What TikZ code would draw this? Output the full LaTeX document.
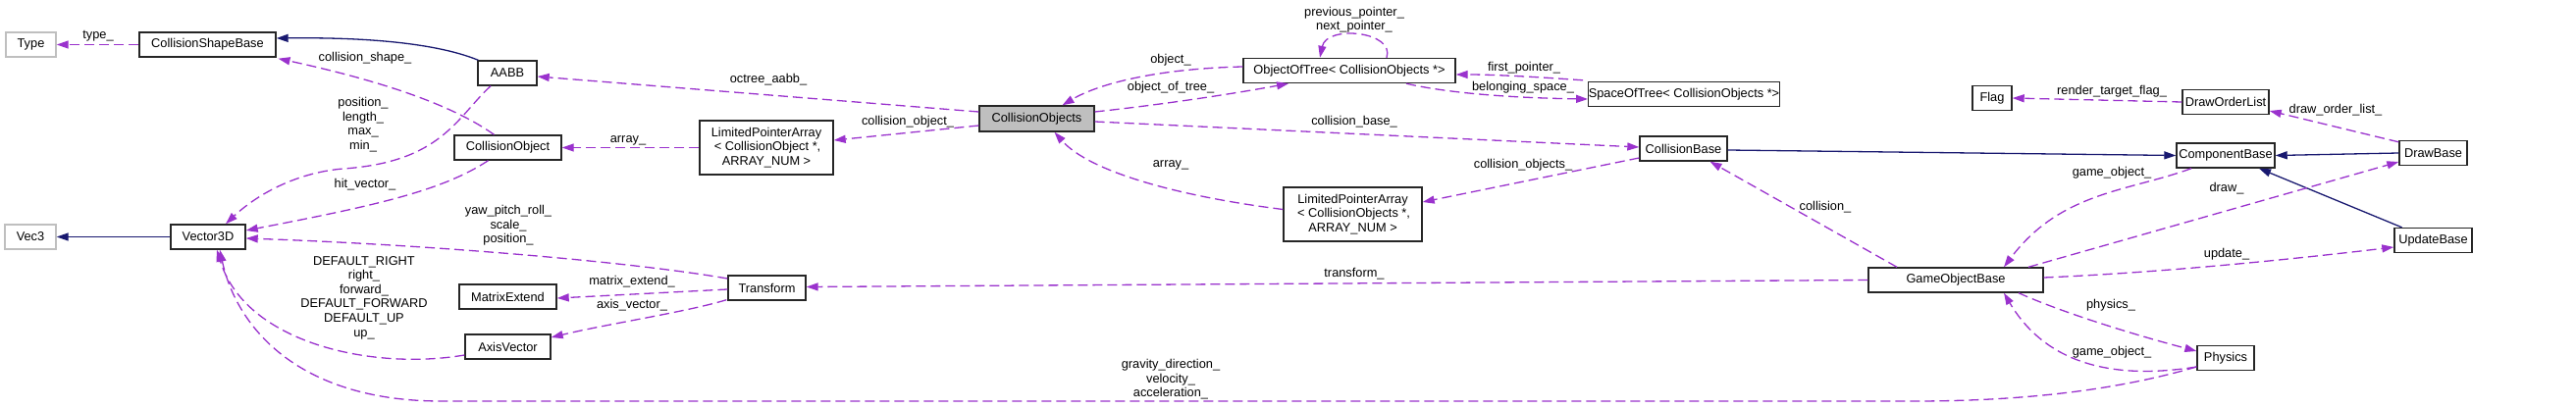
\documentclass[tikz,border=0pt]{standalone}
\usepackage{fontspec}
\setmainfont{Liberation Sans}
\usetikzlibrary{arrows.meta}
\definecolor{usecol}{HTML}{9A32CD}
\definecolor{inhcol}{HTML}{191970}
\definecolor{boxgray}{HTML}{BFBFBF}
\begin{document}
\begin{tikzpicture}[x=1pt,y=-1pt,
  every node/.style={font=\fontsize{12.8}{14.6}\selectfont},
  cls/.style={draw=black!85, line width=1.4pt, fill=white, inner sep=0pt, align=center, minimum height=25pt},
  ext/.style={cls, draw=boxgray},
  cur/.style={cls, fill=boxgray},
  use/.style={usecol, line width=1.3pt, dash pattern=on 10pt off 5pt, -{Triangle[length=12pt,width=8pt]}},
  inh/.style={inhcol, line width=1.3pt, -{Triangle[length=12pt,width=8pt]}},
  lbl/.style={inner sep=0pt, align=center}]
\useasboundingbox (0,0) rectangle (2625,417);
% nodes
\node[ext, minimum width=51pt] (type) at (31.5,45.5) {Type};
\node[cls, minimum width=139pt] (csb) at (211.5,45.5) {CollisionShapeBase};
\node[cls, minimum width=60pt] (aabb) at (517,74.5) {AABB};
\node[cls, minimum width=109pt] (co) at (517.5,150.5) {CollisionObject};
\node[ext, minimum width=52pt] (vec3) at (31,241.5) {Vec3};
\node[cls, minimum width=76pt] (v3d) at (212,241.5) {Vector3D};
\node[cls, minimum width=99pt] (mx) at (517.5,302.5) {MatrixExtend};
\node[cls, minimum width=87pt] (av) at (517.5,353.5) {AxisVector};
\node[cls, minimum width=136pt, minimum height=55pt] (lpa1) at (781,150.5) {LimitedPointerArray\\\,\textless{} CollisionObject *,\\ ARRAY\_NUM \textgreater};
\node[cls, minimum width=79pt] (tf) at (781.5,293.5) {Transform};
\node[cur, minimum width=117pt, minimum height=26pt] (cos) at (1056.5,121) {CollisionObjects};
\node[cls, minimum width=216pt] (oot) at (1375,72) {ObjectOfTree\textless{} CollisionObjects *\textgreater};
\node[cls, minimum width=141pt, minimum height=55pt] (lpa2) at (1378.5,218.5) {LimitedPointerArray\\\,\textless{} CollisionObjects *,\\ ARRAY\_NUM \textgreater};
\node[cls, minimum width=192pt] (sot) at (1716,96) {SpaceOfTree\textless{} CollisionObjects *\textgreater};
\node[cls, minimum width=89pt] (cb) at (1715.5,151.5) {CollisionBase};
\node[cls, minimum width=178pt] (gob) at (1993,285.5) {GameObjectBase};
\node[cls, minimum width=40pt] (flag) at (2030,100) {Flag};
\node[cls, minimum width=88pt] (dol) at (2268,104) {DrawOrderList};
\node[cls, minimum width=100pt] (compb) at (2268,158.5) {ComponentBase};
\node[cls, minimum width=69pt] (db) at (2479.5,156) {DrawBase};
\node[cls, minimum width=79pt] (ub) at (2479.5,245) {UpdateBase};
\node[cls, minimum width=58pt] (phys) at (2268,365) {Physics};
% inheritance
\draw[inh] ([xshift=1pt]aabb.north west) .. controls (440,42) and (360,38) .. ([yshift=6.5pt]csb.east);
\draw[inh] (v3d.west) -- (vec3.east);
\draw[inh] ([yshift=-1.5pt]cb.east) -- (compb.west);
\draw[inh] (db.west) -- (compb.east);
\draw[inh] ([xshift=-32pt]ub.north) -- ([xshift=34pt]compb.south);
% usage
\draw[use] (csb.west) -- (type.east);
\node[lbl] (l1) at (100,37) {type\_};
\draw[use] ([xshift=-14pt]co.north) .. controls (465,110) and (400,85) .. ([xshift=72pt,yshift=-1pt]csb.south);
\node[lbl] (l2) at (372,59) {collision\_shape\_};
\draw[use] ([xshift=-17pt]aabb.south) .. controls (465,120) and (450,165) .. (350,172) .. controls (300,176) and (260,200) .. ([xshift=18pt]v3d.north);
\node[lbl] (l3) at (370,127) {position\_\\length\_\\max\_\\min\_};
\draw[use] ([xshift=-20pt]co.south) .. controls (450,195) and (380,210) .. ([yshift=6.5pt]v3d.east);
\node[lbl] (l4) at (372,188) {hit\_vector\_};
\draw[use] ([yshift=9.5pt]tf.west) .. controls (650,268) and (450,250) .. ([yshift=-1.5pt]v3d.east);
\node[lbl] (l5) at (518,230) {yaw\_pitch\_roll\_\\scale\_\\position\_};
\draw[use] ([yshift=-8.5pt]av.west) .. controls (380,378) and (250,350) .. ([xshift=9pt]v3d.south);
\node[lbl] (l6) at (371,303.5) {DEFAULT\_RIGHT\\right\_\\forward\_\\DEFAULT\_FORWARD\\DEFAULT\_UP\\up\_};
\draw[use] ([yshift=-9pt]phys.west) .. controls (2150,400) and (2050,409) .. (1950,409) -- (450,409) .. controls (300,409) and (240,330) .. ([xshift=12pt]v3d.south);
\node[lbl] (l7) at (1193,387) {gravity\_direction\_\\velocity\_\\acceleration\_};
\draw[use] ([yshift=-1.5pt]tf.west) -- ([yshift=-1.5pt]mx.east);
\node[lbl] (l8) at (644,287) {matrix\_extend\_};
\draw[use] ([xshift=-1pt,yshift=1pt]tf.south west) .. controls (700,318) and (620,330) .. ([yshift=9.5pt]av.east);
\node[lbl] (l9) at (644,311) {axis\_vector\_};
\draw[use] (lpa1.west) -- (co.east);
\node[lbl] (l10) at (640,143) {array\_};
\draw[use] ([yshift=-7pt]cos.west) -- ([yshift=7.5pt]lpa1.east);
\node[lbl] (l11) at (925,124) {collision\_object\_};
\draw[use] ([yshift=7pt]cos.west) -- ([yshift=-3.5pt]aabb.east);
\node[lbl] (l12) at (783,81) {octree\_aabb\_};
\draw[use] ([yshift=4pt]oot.west) .. controls (1180,70) and (1120,85) .. ([xshift=26pt]cos.north);
\node[lbl] (l13) at (1193,61) {object\_};
\draw[use] ([yshift=7pt]cos.east) .. controls (1190,106) and (1260,95) .. ([xshift=-62pt]oot.south);
\node[lbl] (l14) at (1193,89) {object\_of\_tree\_};
\draw[use] ([xshift=38pt]oot.north) .. controls (1422,32) and (1352,25) .. ([xshift=-30pt]oot.north);
\node[lbl] (l15) at (1380,20) {previous\_pointer\_\\next\_pointer\_};
\draw[use] ([xshift=-5pt,yshift=1pt]sot.north west) .. controls (1560,78) and (1520,76) .. ([yshift=-4pt]oot.east);
\node[lbl] (l16) at (1553,69) {first\_pointer\_};
\draw[use] ([xshift=58pt]oot.south) .. controls (1480,96) and (1550,100) .. ([yshift=-5pt]sot.west);
\node[lbl] (l17) at (1552,89) {belonging\_space\_};
\draw[use] ([yshift=5pt]lpa2.west) .. controls (1200,200) and (1110,175) .. ([xshift=18pt]cos.south);
\node[lbl] (l18) at (1193,168) {array\_};
\draw[use] ([yshift=-3pt]cos.east) -- ([yshift=1.5pt]cb.west);
\node[lbl] (l19) at (1380,124) {collision\_base\_};
\draw[use] ([yshift=-9.5pt]cb.west) -- ([yshift=12.5pt]lpa2.east);
\node[lbl] (l20) at (1552,168) {collision\_objects\_};
\draw[use] ([xshift=-60pt]gob.north) -- ([xshift=27pt]cb.south);
\node[lbl] (l21) at (1860,211) {collision\_};
\draw[use] (gob.west) -- ([yshift=1pt]tf.east);
\node[lbl] (l22) at (1380,279) {transform\_};
\draw[use] (dol.west) -- (flag.east);
\node[lbl] (l23) at (2152,93) {render\_target\_flag\_};
\draw[use] ([yshift=-2pt]db.north west) -- ([yshift=-9pt]dol.east);
\node[lbl] (l24) at (2380,112) {draw\_order\_list\_};
\draw[use] ([xshift=-35pt]compb.south) .. controls (2170,195) and (2100,195) .. ([xshift=49pt]gob.north);
\node[lbl] (l25) at (2152,176) {game\_object\_};
\draw[use] ([xshift=74pt]gob.north) -- ([yshift=-9pt]db.west);
\node[lbl] (l26) at (2269,192) {draw\_};
\draw[use] ([yshift=2.5pt]gob.east) .. controls (2200,278) and (2330,265) .. ([yshift=-7pt]ub.west);
\node[lbl] (l27) at (2269,259) {update\_};
\draw[use] ([xshift=64pt]gob.south) .. controls (2100,318) and (2170,340) .. ([yshift=7pt]phys.west);
\node[lbl] (l28) at (2151,311) {physics\_};
\draw[use] ([yshift=-9pt]phys.west) .. controls (2170,385) and (2090,380) .. ([xshift=49pt]gob.south);
\node[lbl] (l29) at (2152,359) {game\_object\_};
\end{tikzpicture}
\end{document}
